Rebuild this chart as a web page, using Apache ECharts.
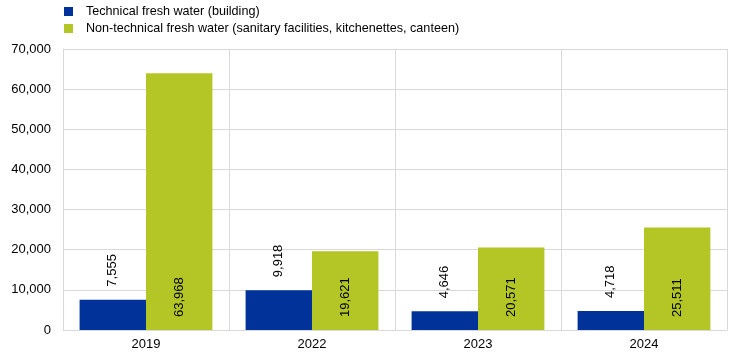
<!DOCTYPE html>
<html><head><meta charset="utf-8">
<script src="https://cdn.jsdelivr.net/npm/echarts@6/dist/echarts.min.js"></script>
<style>html,body{margin:0;padding:0;background:#fff}#c{width:744px;height:357px}</style>
</head><body><div id="c"></div>
<script>
var categories = ['2019', '2022', '2023', '2024'];
var technical = [7555, 9918, 4646, 4718];
var nonTechnical = [63968, 19621, 20571, 25511];
var seriesNames = ['Technical fresh water (building)', 'Non-technical fresh water (sanitary facilities, kitchenettes, canteen)'];

var fmt = function (v) { return Number(v).toLocaleString('en-US'); };
var font = 'Liberation Sans, Arial, sans-serif';
var chart = echarts.init(document.getElementById('c'), null, {renderer: 'canvas'});
chart.setOption({
  animation: false,
  textStyle: {fontFamily: font},
  legend: {
    orient: 'vertical', left: 59, top: 0, itemWidth: 9, itemHeight: 9, itemGap: 4,
    icon: 'rect',
    textStyle: {fontSize: 12.6, color: '#000', fontFamily: font, padding: [0, 0, 0, 8]},
    data: seriesNames
  },
  grid: {left: 63, right: 17, top: 49, bottom: 27},
  xAxis: {
    type: 'category', data: categories,
    axisLine: {lineStyle: {color: '#d9d9d9', width: 1}},
    axisTick: {show: false},
    axisLabel: {color: '#000', fontSize: 13, margin: 8, fontFamily: font},
    splitLine: {show: true, lineStyle: {color: '#d9d9d9', width: 1}}
  },
  yAxis: {
    type: 'value', min: 0, max: 70000, interval: 10000,
    axisLine: {show: true, lineStyle: {color: '#d9d9d9', width: 1}},
    axisTick: {show: false},
    axisLabel: {color: '#000', fontSize: 13, margin: 12, formatter: fmt, fontFamily: font},
    splitLine: {lineStyle: {color: '#d9d9d9', width: 1}}
  },
  series: [
    {
      name: seriesNames[0], type: 'bar', data: technical,
      barGap: '0%', barCategoryGap: '20%',
      itemStyle: {color: '#003299'},
      label: {show: true, position: 'top', rotate: 90, align: 'left', verticalAlign: 'middle',
        distance: 13, fontSize: 13, color: '#000', formatter: function (p) { return fmt(p.value); }}
    },
    {
      name: seriesNames[1], type: 'bar', data: nonTechnical,
      barGap: '0%', barCategoryGap: '20%',
      itemStyle: {color: '#b3c626'},
      label: {show: true, position: 'insideBottom', rotate: 90, align: 'left', verticalAlign: 'middle',
        distance: 13, fontSize: 13, color: '#000', formatter: function (p) { return fmt(p.value); }}
    }
  ]
});
</script></body></html>
